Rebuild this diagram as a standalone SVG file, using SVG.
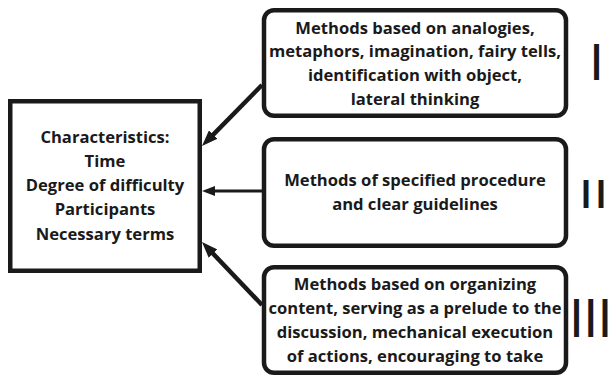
<svg xmlns="http://www.w3.org/2000/svg" width="610" height="377" viewBox="0 0 610 377">
<defs>
<style>
.box{fill:#fff;stroke:#1a1a1a;stroke-width:4.5}
.t{font-family:"Open Sans",Lato,"Liberation Sans",sans-serif;font-weight:bold;font-size:16.6px;fill:#1a1a1a;text-anchor:middle}
.num{font-family:"Liberation Sans",sans-serif;font-weight:bold;fill:#1a1a1a;text-anchor:middle}
.con{stroke:#1a1a1a;fill:none}
</style>
<marker id="ah" markerUnits="userSpaceOnUse" viewBox="0 0 16 12" markerWidth="16" markerHeight="12" refX="8" refY="6" orient="auto">
<path d="M0,0 L16,6 L0,12 z" fill="#1a1a1a"/>
</marker>
<marker id="ah2" markerUnits="userSpaceOnUse" viewBox="0 0 13 10" markerWidth="13" markerHeight="10" refX="5" refY="5" orient="auto">
<path d="M0,0 L13,5 L0,10 z" fill="#1a1a1a"/>
</marker>
</defs>
<rect width="610" height="377" fill="#fff"/>
<g id="connectors">
<line class="con" x1="262" y1="85" x2="207.6" y2="140.3" stroke-width="4.5" marker-end="url(#ah)"/>
<line class="con" x1="262" y1="191" x2="210" y2="191" stroke-width="3" marker-end="url(#ah2)"/>
<line class="con" x1="262" y1="305" x2="207.5" y2="247.8" stroke-width="4.5" marker-end="url(#ah)"/>
</g>
<g id="characteristics">
<rect class="box" x="10.25" y="101.25" width="189.5" height="169.5"/>
<text class="t" x="105" y="143">Characteristics:</text>
<text class="t" x="105" y="167">Time</text>
<text class="t" x="105" y="191">Degree of difficulty</text>
<text class="t" x="105" y="215">Participants</text>
<text class="t" x="105" y="240">Necessary terms</text>
</g>
<g id="group1">
<rect class="box" x="264" y="10.25" width="302" height="105.5" rx="10"/>
<text class="t" x="415" y="33.5">Methods based on analogies,</text>
<text class="t" x="415" y="57">metaphors, imagination, fairy tells,</text>
<text class="t" x="415" y="81">identification with object,</text>
<text class="t" x="415" y="105">lateral thinking</text>
</g>
<g id="group2">
<rect class="box" x="264" y="139.25" width="302" height="106.5" rx="10"/>
<text class="t" x="415" y="186">Methods of specified procedure</text>
<text class="t" x="415" y="210">and clear guidelines</text>
</g>
<g id="group3">
<rect class="box" x="264" y="267.25" width="302" height="105.5" rx="10"/>
<text class="t" x="415" y="290">Methods based on organizing</text>
<text class="t" x="415" y="313.5" textLength="293" lengthAdjust="spacingAndGlyphs">content, serving as a prelude to the</text>
<text class="t" x="415" y="337.5">discussion, mechanical execution</text>
<text class="t" x="415" y="362">of actions, encouraging to take</text>
</g>
<g id="numerals">
<text class="num" font-size="52" transform="translate(596.5,80) scale(0.66,1)" x="0" y="0">I</text>
<text class="num" font-size="39.8" transform="translate(593.5,208) scale(0.86,1)"><tspan x="-8.72" y="0">I</tspan><tspan x="8.72" y="0">I</tspan></text>
<text class="num" font-size="54.9" transform="translate(590.75,336.7) scale(0.62,1)"><tspan x="-22.98" y="0">I</tspan><tspan x="0" y="0">I</tspan><tspan x="22.98" y="0">I</tspan></text>
</g>
</svg>
